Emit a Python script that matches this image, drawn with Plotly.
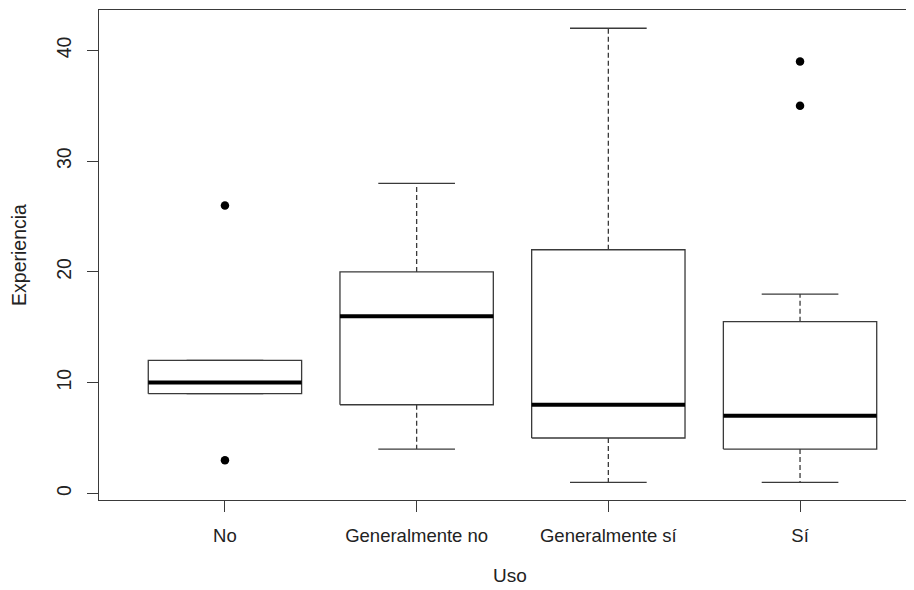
import plotly.graph_objects as go

categories = ["No", "Generalmente no", "Generalmente sí", "Sí"]
lower_whisker = [9, 4, 1, 1]
q1 = [9, 8, 5, 4]
median = [10, 16, 8, 7]
q3 = [12, 20, 22, 15.5]
upper_whisker = [12, 28, 42, 18]
outliers = [[26, 3], [], [], [39, 35]]
y_ticks = [0, 10, 20, 30, 40]

BOX_HALF = 0.4
CAP_HALF = 0.2
LINE_COL = "#3a3a3a"
FONT = "Liberation Sans, Arial, sans-serif"

fig = go.Figure()
for i, cat in enumerate(categories):
    pos = i + 1
    # dashed whiskers
    fig.add_trace(go.Scatter(
        x=[pos, pos, None, pos, pos],
        y=[q3[i], upper_whisker[i], None, q1[i], lower_whisker[i]],
        mode="lines", line=dict(color=LINE_COL, width=1.3, dash="5px,3px"),
        hoverinfo="skip", showlegend=False))
    # caps
    fig.add_trace(go.Scatter(
        x=[pos - CAP_HALF, pos + CAP_HALF, None, pos - CAP_HALF, pos + CAP_HALF],
        y=[upper_whisker[i], upper_whisker[i], None, lower_whisker[i], lower_whisker[i]],
        mode="lines", line=dict(color=LINE_COL, width=1.3),
        hoverinfo="skip", showlegend=False))
    # box
    fig.add_trace(go.Scatter(
        x=[pos - BOX_HALF, pos + BOX_HALF, pos + BOX_HALF, pos - BOX_HALF, pos - BOX_HALF],
        y=[q1[i], q1[i], q3[i], q3[i], q1[i]],
        mode="lines", line=dict(color=LINE_COL, width=1.3),
        fill="toself", fillcolor="white",
        hoverinfo="skip", showlegend=False))
    # median
    fig.add_trace(go.Scatter(
        x=[pos - BOX_HALF, pos + BOX_HALF],
        y=[median[i], median[i]],
        mode="lines", line=dict(color="black", width=4),
        hoverinfo="skip", showlegend=False))
    # outliers
    if outliers[i]:
        fig.add_trace(go.Scatter(
            x=[pos] * len(outliers[i]), y=outliers[i],
            mode="markers", marker=dict(color="black", size=8.5),
            hoverinfo="skip", showlegend=False))

fig.update_layout(
    width=914, height=590,
    margin=dict(l=91, r=1, t=2, b=98),
    paper_bgcolor="white", plot_bgcolor="white",
    font=dict(family=FONT, size=18.5, color="#222222"),
    showlegend=False,
)
fig.update_xaxes(
    range=[0.343, 4.631], automargin=False,
    tickmode="array", tickvals=[1, 2, 3, 4], ticktext=categories,
    ticks="outside", ticklen=11, tickwidth=1.3, tickcolor=LINE_COL,
    showline=True, linecolor=LINE_COL, linewidth=1.3, mirror=True,
    showgrid=False, zeroline=False,
    ticklabelstandoff=8,
    title=dict(text="Uso", standoff=23, font=dict(size=19)),
)
fig.update_yaxes(
    range=[-0.6, 43.65], automargin=False,
    tickmode="array", tickvals=y_ticks,
    tickangle=-90, tickfont=dict(size=19.5),
    ticks="outside", ticklen=11, tickwidth=1.3, tickcolor=LINE_COL,
    showline=True, linecolor=LINE_COL, linewidth=1.3, mirror=True,
    showgrid=False, zeroline=False,
    ticklabelstandoff=8,
    title=dict(text="Experiencia", standoff=30, font=dict(size=19.5)),
)

fig.write_html("out.html")
